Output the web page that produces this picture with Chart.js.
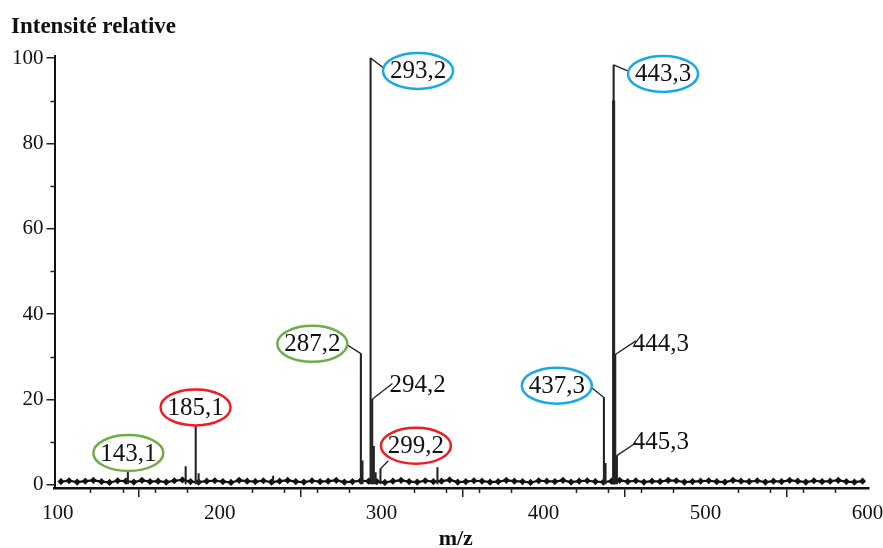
<!DOCTYPE html>
<html lang="fr">
<head>
<meta charset="utf-8">
<title>Spectre de masse</title>
<script src="https://cdn.jsdelivr.net/npm/chart.js@4.4.1/dist/chart.umd.min.js"></script>
<style>
    html, body { margin: 0; padding: 0; background: #fff; }
    #cadre { width: 883px; height: 548px; }
</style>
</head>
<body>
<div id="cadre"><canvas id="spectre" width="883" height="548"></canvas></div>
<script>
// Pics du spectre (m/z et intensité relative en %)
const picsMz  = [143.3, 179.0, 185.2, 187.0, 233.0, 287.2, 288.2, 293.2, 294.2, 295.2, 296.3, 299.3, 334.5, 437.3, 438.3, 443.0, 443.3, 443.6, 444.3, 445.3];
const picsInt = [3.7,   4.2,   14.3,  2.6,   2.0,   30.7,  5.6,   100,   20.0,  9.0,   2.8,   3.7,   4.0,   20.4,  5.0,   90.0,  98.4,  90.0,  30.5,  6.8];

// Bruit de fond (ligne de base)
const bruitMz = [102,107,112,117,122,127,132,137,142,147,152,157,162,167,172,177,182,187,192,197,
                 202,207,212,217,222,227,232,237,242,247,252,257,262,267,272,277,282,287,292,297,
                 302,307,312,317,322,327,332,337,342,347,352,357,362,367,372,377,382,387,392,397,
                 402,407,412,417,422,427,432,437,442,447,452,457,462,467,472,477,482,487,492,497,
                 502,507,512,517,522,527,532,537,542,547,552,557,562,567,572,577,582,587,592,597];
const bruitInt = [0.7,0.9,0.6,0.8,1.0,0.7,0.5,0.9,0.8,0.6, 1.0,0.7,0.8,0.6,0.9,1.1,0.7,0.6,0.8,0.9,
                  0.7,0.5,1.0,0.8,0.7,0.9,0.6,0.8,1.0,0.7, 0.6,0.9,0.7,0.8,1.0,0.6,0.7,0.9,0.8,0.7,
                  0.5,0.8,1.0,0.7,0.6,0.9,0.7,0.8,1.1,0.6, 0.7,0.9,0.8,0.6,0.7,1.0,0.8,0.7,0.5,0.9,
                  0.8,0.7,1.0,0.6,0.8,0.9,0.7,0.6,0.8,1.0, 0.7,0.9,0.6,0.8,0.7,1.0,0.9,0.6,0.7,0.8,
                  0.9,0.7,0.6,1.0,0.8,0.7,0.9,0.6,0.8,0.7, 1.0,0.8,0.6,0.9,0.7,0.8,1.0,0.7,0.6,0.8];

// Graduations
const xTicks = [100, 200, 300, 400, 500, 600];
const xMinor = [120, 140, 160, 180, 220, 240, 260, 280, 320, 340, 360, 380, 420, 440, 460, 480, 520, 540, 560, 580];
const yTicks = [0, 20, 40, 60, 80, 100];
const yMinor = [10, 30, 50, 70, 90];

// Etiquettes des pics : pic annoté, fin du trait et centre du texte (en unités du graphique)
const etiquettes = [
    { texte: '143,1', pic: 143.3, trait: null,          centre: [143.6, 7.4],  couleur: '#70ad47' },
    { texte: '185,1', pic: 185.2, trait: null,          centre: [185.1, 18.1], couleur: '#ee1c24' },
    { texte: '287,2', pic: 287.2, trait: [275.7, 33.5], centre: [257.2, 33.0], couleur: '#70ad47' },
    { texte: '293,2', pic: 293.2, trait: [305.4, 96.5], centre: [322.5, 97.0], couleur: '#1ba9e3' },
    { texte: '294,2', pic: 294.2, trait: [306.7, 23.7], centre: [322.2, 23.4], couleur: null },
    { texte: '299,2', pic: 299.3, trait: [304.2, 5.6],  centre: [321.2, 9.1],  couleur: '#ee1c24' },
    { texte: '437,3', pic: 437.3, trait: [427.4, 23.4], centre: [408.2, 23.2], couleur: '#1ba9e3' },
    { texte: '443,3', pic: 443.3, trait: [455.2, 96.5], centre: [473.8, 96.3], couleur: '#1ba9e3' },
    { texte: '444,3', pic: 444.3, trait: [457.1, 33.7], centre: [472.5, 33.0], couleur: null },
    { texte: '445,3', pic: 445.3, trait: [457.1, 9.8],  centre: [472.5, 10.1], couleur: null }
];

const police = "'Liberation Serif', 'Times New Roman', serif";

// Plugin : titres des axes, petites graduations et étiquettes entourées
const pluginAnnotations = {
    id: 'annotations',
    afterDraw(chart) {
        const ctx = chart.ctx;
        const x = chart.scales.x;
        const y = chart.scales.y;
        const area = chart.chartArea;

        ctx.save();

        // petites graduations
        ctx.strokeStyle = '#222';
        ctx.lineWidth = 1.5;
        xMinor.forEach(v => {
            const px = Math.round(x.getPixelForValue(v)) + 0.5;
            ctx.beginPath();
            ctx.moveTo(px, area.bottom);
            ctx.lineTo(px, area.bottom + 5);
            ctx.stroke();
        });
        yMinor.forEach(v => {
            const py = Math.round(y.getPixelForValue(v)) + 0.5;
            ctx.beginPath();
            ctx.moveTo(area.left, py);
            ctx.lineTo(area.left - 4, py);
            ctx.stroke();
        });

        // titres des axes
        ctx.fillStyle = '#111';
        ctx.font = 'bold 23px ' + police;
        ctx.textAlign = 'left';
        ctx.textBaseline = 'alphabetic';
        ctx.fillText('Intensité relative', 11, 33);

        ctx.font = 'bold 22px ' + police;
        ctx.textAlign = 'center';
        ctx.fillText('m/z', (area.left + area.right) / 2 - 6, 545);

        // étiquettes
        etiquettes.forEach(e => {
            const i = picsMz.indexOf(e.pic);
            const x0 = x.getPixelForValue(picsMz[i]);
            const y0 = y.getPixelForValue(picsInt[i]);
            const cx = x.getPixelForValue(e.centre[0]);
            const cy = y.getPixelForValue(e.centre[1]);

            if (e.trait) {
                ctx.strokeStyle = '#222';
                ctx.lineWidth = 1.3;
                ctx.beginPath();
                ctx.moveTo(x0, y0);
                ctx.lineTo(x.getPixelForValue(e.trait[0]), y.getPixelForValue(e.trait[1]));
                ctx.stroke();
            }

            if (e.couleur) {
                ctx.beginPath();
                ctx.ellipse(cx, cy, 35, 18, 0, 0, Math.PI * 2);
                ctx.fillStyle = '#fff';
                ctx.fill();
                ctx.strokeStyle = e.couleur;
                ctx.lineWidth = 2.5;
                ctx.stroke();
            }

            ctx.fillStyle = '#111';
            ctx.font = '25px ' + police;
            ctx.textAlign = 'center';
            ctx.textBaseline = 'middle';
            ctx.fillText(e.texte, cx, cy + 1);
        });

        ctx.restore();
    }
};

const ctx = document.getElementById('spectre').getContext('2d');
const spectreChart = new Chart(ctx, {
    type: 'bar',
    data: {
        datasets: [
            {
                type: 'bar',
                label: 'Pics',
                data: picsMz.map((m, i) => ({ x: m, y: picsInt[i] })),
                backgroundColor: '#222',
                barThickness: 1.4,
                order: 1
            },
            {
                type: 'line',
                label: 'Bruit de fond',
                data: bruitMz.map((m, i) => ({ x: m, y: bruitInt[i] })),
                borderColor: '#111',
                borderWidth: 2.2,
                pointStyle: 'rectRot',
                pointRadius: 3.6,
                pointBackgroundColor: '#111',
                pointBorderWidth: 0,
                tension: 0,
                order: 2
            }
        ]
    },
    options: {
        responsive: false,
        animation: false,
        layout: { padding: { left: 9, right: 14, top: 56, bottom: 18 } },
        plugins: {
            legend: { display: false },
            tooltip: { enabled: false }
        },
        scales: {
            x: {
                type: 'linear',
                min: 98,
                max: 601,
                offset: false,
                afterBuildTicks: s => { s.ticks = xTicks.map(v => ({ value: v })); },
                afterFit: s => { s.paddingRight = 0; s.paddingLeft = 0; },
                ticks: {
                    font: { family: police, size: 21, lineHeight: 1 },
                    color: '#111',
                    padding: 6,
                    maxRotation: 0,
                    callback: v => v
                },
                grid: { drawOnChartArea: false, drawTicks: true, tickLength: 9, color: '#222', lineWidth: 1.5 },
                border: { display: true, color: '#111', width: 2.5 }
            },
            y: {
                min: -0.8,
                max: 100.5,
                afterBuildTicks: s => { s.ticks = yTicks.map(v => ({ value: v })); },
                ticks: {
                    font: { family: police, size: 21 },
                    color: '#111',
                    padding: 3,
                    callback: v => v
                },
                grid: { drawOnChartArea: false, drawTicks: true, tickLength: 8, color: '#222', lineWidth: 1.5 },
                border: { display: true, color: '#111', width: 2 }
            }
        }
    },
    plugins: [pluginAnnotations]
});
</script>
</body>
</html>
